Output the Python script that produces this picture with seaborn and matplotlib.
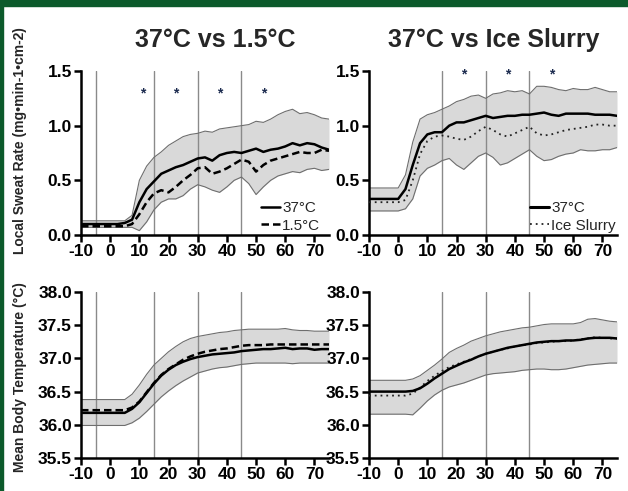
import matplotlib
matplotlib.use("Agg")
import matplotlib.pyplot as plt
import seaborn as sns
from matplotlib import font_manager
from matplotlib.patches import Rectangle
from matplotlib.lines import Line2D

# ---------------- data ----------------
time = [-10, -7.5, -5, -2.5, 0, 2.5, 5, 7.5, 10, 12.5, 15, 17.5, 20, 22.5, 25, 27.5,
        30, 32.5, 35, 37.5, 40, 42.5, 45, 47.5, 50, 52.5, 55, 57.5, 60, 62.5, 65,
        67.5, 70, 72.5, 75]

# Local sweat rate, 37C vs 1.5C
sr_a_37 = [0.10, 0.10, 0.10, 0.10, 0.10, 0.10, 0.11, 0.14, 0.30, 0.42, 0.49, 0.56, 0.59,
           0.62, 0.64, 0.67, 0.70, 0.71, 0.68, 0.73, 0.75, 0.76, 0.75, 0.77, 0.79, 0.76,
           0.78, 0.79, 0.81, 0.84, 0.82, 0.84, 0.83, 0.80, 0.78]
sr_a_15 = [0.08, 0.08, 0.08, 0.08, 0.08, 0.08, 0.08, 0.10, 0.19, 0.30, 0.38, 0.41, 0.39,
           0.44, 0.50, 0.55, 0.61, 0.62, 0.56, 0.58, 0.61, 0.65, 0.69, 0.67, 0.58, 0.64,
           0.68, 0.70, 0.72, 0.74, 0.76, 0.75, 0.75, 0.78, 0.77]
sr_a_hi = [0.13, 0.13, 0.13, 0.13, 0.13, 0.13, 0.13, 0.18, 0.50, 0.63, 0.71, 0.76, 0.82,
           0.86, 0.90, 0.92, 0.93, 0.95, 0.94, 0.97, 0.98, 0.99, 1.00, 1.01, 1.04, 1.03,
           1.06, 1.10, 1.13, 1.15, 1.11, 1.12, 1.10, 1.07, 1.06]
sr_a_lo = [0.07, 0.07, 0.07, 0.07, 0.07, 0.07, 0.07, 0.07, 0.04, 0.12, 0.23, 0.30, 0.33,
           0.33, 0.36, 0.42, 0.46, 0.44, 0.41, 0.39, 0.44, 0.50, 0.53, 0.47, 0.37, 0.44,
           0.50, 0.54, 0.56, 0.58, 0.57, 0.60, 0.61, 0.59, 0.60]

# Local sweat rate, 37C vs Ice Slurry
sr_b_37 = [0.33, 0.33, 0.33, 0.33, 0.33, 0.42, 0.64, 0.84, 0.92, 0.94, 0.94, 1.00, 1.03,
           1.03, 1.05, 1.07, 1.09, 1.07, 1.08, 1.09, 1.09, 1.10, 1.10, 1.11, 1.12, 1.10,
           1.09, 1.11, 1.11, 1.11, 1.11, 1.10, 1.10, 1.10, 1.09]
sr_b_ice = [0.30, 0.30, 0.30, 0.30, 0.30, 0.32, 0.50, 0.74, 0.86, 0.90, 0.91, 0.90, 0.88,
            0.87, 0.90, 0.95, 0.99, 0.96, 0.92, 0.90, 0.93, 0.96, 0.99, 0.93, 0.91, 0.92,
            0.94, 0.96, 0.97, 0.98, 0.99, 1.01, 1.01, 1.00, 1.00]
sr_b_hi = [0.43, 0.43, 0.43, 0.43, 0.43, 0.55, 0.85, 1.06, 1.10, 1.12, 1.15, 1.18, 1.22,
           1.24, 1.27, 1.28, 1.25, 1.29, 1.30, 1.32, 1.31, 1.32, 1.29, 1.36, 1.36, 1.35,
           1.33, 1.32, 1.34, 1.33, 1.33, 1.35, 1.33, 1.31, 1.31]
sr_b_lo = [0.22, 0.22, 0.22, 0.22, 0.22, 0.24, 0.33, 0.54, 0.61, 0.64, 0.68, 0.70, 0.64,
           0.60, 0.66, 0.72, 0.75, 0.71, 0.64, 0.66, 0.70, 0.74, 0.78, 0.72, 0.68, 0.69,
           0.72, 0.74, 0.75, 0.78, 0.77, 0.77, 0.78, 0.78, 0.80]

# Mean body temperature, 37C vs 1.5C
bt_a_37 = [36.18, 36.18, 36.18, 36.18, 36.18, 36.18, 36.18, 36.24, 36.34, 36.48, 36.62,
           36.74, 36.83, 36.90, 36.95, 36.99, 37.02, 37.04, 37.06, 37.07, 37.08, 37.09,
           37.11, 37.12, 37.13, 37.14, 37.14, 37.15, 37.16, 37.14, 37.15, 37.15, 37.13,
           37.14, 37.14]
bt_a_15 = [36.22, 36.22, 36.22, 36.22, 36.22, 36.22, 36.22, 36.26, 36.35, 36.49, 36.63,
           36.75, 36.84, 36.91, 36.98, 37.03, 37.07, 37.10, 37.12, 37.14, 37.15, 37.17,
           37.19, 37.20, 37.20, 37.20, 37.21, 37.21, 37.21, 37.21, 37.21, 37.21, 37.21,
           37.21, 37.21]
bt_a_hi = [36.38, 36.38, 36.38, 36.38, 36.38, 36.38, 36.38, 36.46, 36.60, 36.76, 36.90,
           37.00, 37.10, 37.18, 37.25, 37.30, 37.33, 37.35, 37.37, 37.39, 37.40, 37.42,
           37.43, 37.44, 37.44, 37.44, 37.44, 37.44, 37.45, 37.43, 37.42, 37.42, 37.41,
           37.41, 37.41]
bt_a_lo = [35.99, 35.99, 35.99, 35.99, 35.99, 35.99, 35.99, 36.03, 36.10, 36.20, 36.31,
           36.42, 36.51, 36.59, 36.66, 36.72, 36.78, 36.81, 36.84, 36.86, 36.87, 36.89,
           36.91, 36.92, 36.93, 36.93, 36.93, 36.93, 36.93, 36.92, 36.93, 36.93, 36.93,
           36.93, 36.93]

# Mean body temperature, 37C vs Ice Slurry
bt_b_37 = [36.50, 36.50, 36.50, 36.50, 36.50, 36.50, 36.51, 36.55, 36.62, 36.70, 36.77,
           36.84, 36.89, 36.94, 36.98, 37.03, 37.07, 37.10, 37.13, 37.16, 37.18, 37.20,
           37.22, 37.24, 37.25, 37.26, 37.26, 37.27, 37.27, 37.28, 37.30, 37.31, 37.31,
           37.31, 37.30]
bt_b_ice = [36.44, 36.44, 36.44, 36.44, 36.44, 36.44, 36.47, 36.56, 36.66, 36.74, 36.81,
            36.87, 36.91, 36.95, 36.99, 37.03, 37.07, 37.10, 37.13, 37.15, 37.18, 37.20,
            37.21, 37.23, 37.24, 37.25, 37.26, 37.26, 37.27, 37.29, 37.30, 37.32, 37.31,
            37.30, 37.30]
bt_b_hi = [36.67, 36.67, 36.67, 36.67, 36.67, 36.67, 36.69, 36.74, 36.82, 36.90, 36.99,
           37.09, 37.15, 37.20, 37.26, 37.30, 37.34, 37.37, 37.40, 37.42, 37.44, 37.46,
           37.47, 37.49, 37.51, 37.52, 37.52, 37.52, 37.52, 37.54, 37.59, 37.60, 37.58,
           37.56, 37.55]
bt_b_lo = [36.16, 36.16, 36.16, 36.16, 36.16, 36.16, 36.15, 36.25, 36.36, 36.45, 36.52,
           36.57, 36.60, 36.63, 36.67, 36.71, 36.75, 36.77, 36.78, 36.79, 36.80, 36.82,
           36.83, 36.84, 36.84, 36.83, 36.83, 36.84, 36.86, 36.88, 36.90, 36.91, 36.92,
           36.93, 36.93]

x_ticks = [-10, 0, 10, 20, 30, 40, 50, 60, 70]
sr_ticks = [0.0, 0.5, 1.0, 1.5]
bt_ticks = [35.5, 36.0, 36.5, 37.0, 37.5, 38.0]
vlines_a = [-5, 15, 30, 45]
vlines_b = [15, 30, 45]
stars_a = [11, 22.5, 37.5, 52.5]
stars_b = [22.5, 37.5, 52.5]
titles = ["37°C vs 1.5°C", "37°C vs Ice Slurry"]
legend_a = ["37°C", "1.5°C"]
legend_b = ["37°C", "Ice Slurry"]
ylabel_top = "Local Sweat Rate (mg•min-1•cm-2)"
ylabel_bottom = "Mean Body Temperature (°C)"

# ---------------- style ----------------
sns.set_style("ticks")
avail = {f.name for f in font_manager.fontManager.ttflist}
base_font = "Liberation Sans" if "Liberation Sans" in avail else "DejaVu Sans"
plt.rcParams["font.family"] = [base_font, "DejaVu Sans"]
plt.rcParams["axes.unicode_minus"] = False

W, H = 628, 491
fig = plt.figure(figsize=(W / 100, H / 100), dpi=100)

# green frame (top and left)
fig.patches.append(Rectangle((0, 1 - 6 / H), 1, 6 / H, transform=fig.transFigure,
                             color="#0c5a2b", zorder=10))
fig.patches.append(Rectangle((0, 0), 3 / W, 1, transform=fig.transFigure,
                             color="#0c5a2b", zorder=10))


def axpos(l, t, r, b):
    return [l / W, 1 - b / H, (r - l) / W, (b - t) / H]


ax_tl = fig.add_axes(axpos(81, 71, 329, 235))
ax_tr = fig.add_axes(axpos(369, 71, 617, 235))
ax_bl = fig.add_axes(axpos(81, 292, 329, 458))
ax_br = fig.add_axes(axpos(369, 292, 617, 458))

band_col = "#d9d9d9"
edge_col = "#6e6e6e"
DASH = (0, (3, 1.6))
DOT = (0, (1, 2.2))


def draw(ax, lo, hi, s1, s2, style2, vl, ylim, yticks):
    ax.fill_between(time, lo, hi, color=band_col, lw=0, zorder=1)
    for v in vl:
        ax.axvline(v, color="#8a8a8a", lw=1.0, zorder=1.5)
    sns.lineplot(x=time, y=hi, ax=ax, color=edge_col, lw=0.8, zorder=2)
    sns.lineplot(x=time, y=lo, ax=ax, color=edge_col, lw=0.8, zorder=2)
    sns.lineplot(x=time, y=s1, ax=ax, color="black", lw=1.8, zorder=4)
    if style2 == "dash":
        sns.lineplot(x=time, y=s2, ax=ax, color="black", lw=1.8, zorder=3, linestyle=DASH)
    else:
        sns.lineplot(x=time, y=s2, ax=ax, color="#222222", lw=1.3, zorder=3, linestyle=DOT)
    ax.set_xlim(-10, 75)
    ax.set_ylim(*ylim)
    ax.set_xticks(x_ticks)
    ax.set_xticklabels([str(v) for v in x_ticks])
    ax.set_yticks(yticks)
    ax.set_yticklabels(["{:.1f}".format(v) for v in yticks])
    for sp in ["top", "right"]:
        ax.spines[sp].set_visible(False)
    for sp in ["left", "bottom"]:
        ax.spines[sp].set_linewidth(1.8)
        ax.spines[sp].set_color("black")
    ax.tick_params(axis="both", direction="out", length=5, width=1.8, pad=1.5,
                   colors="black")
    for lab in ax.get_xticklabels() + ax.get_yticklabels():
        lab.set_fontweight("bold")
        lab.set_fontsize(12.5)
    ax.set_xlabel("")
    ax.set_ylabel("")
    if ax.get_legend() is not None:
        ax.get_legend().remove()


draw(ax_tl, sr_a_lo, sr_a_hi, sr_a_37, sr_a_15, "dash", vlines_a, (0, 1.5), sr_ticks)
draw(ax_tr, sr_b_lo, sr_b_hi, sr_b_37, sr_b_ice, "dot", vlines_b, (0, 1.5), sr_ticks)
draw(ax_bl, bt_a_lo, bt_a_hi, bt_a_37, bt_a_15, "dash", vlines_a, (35.5, 38.0), bt_ticks)
draw(ax_br, bt_b_lo, bt_b_hi, bt_b_37, bt_b_ice, "dot", vlines_b, (35.5, 38.0), bt_ticks)

for xs in stars_a:
    ax_tl.text(xs, 1.29, "*", ha="center", va="center", fontsize=10, color="#1c2b4f",
               fontweight="bold")
for xs in stars_b:
    ax_tr.text(xs, 1.47, "*", ha="center", va="center", fontsize=10, color="#1c2b4f",
               fontweight="bold")

# legends
h_a = [Line2D([], [], color="black", lw=1.8),
       Line2D([], [], color="black", lw=1.8, linestyle=DASH)]
h_b = [Line2D([], [], color="black", lw=2.2),
       Line2D([], [], color="#222222", lw=1.3, linestyle=DOT)]
for ax, hs, labs, xa in [(ax_tl, h_a, legend_a, 0.725), (ax_tr, h_b, legend_b, 0.648)]:
    ax.legend(hs, labs, loc="lower left", bbox_to_anchor=(xa, 0.015), frameon=False,
              fontsize=11, handlelength=1.25, handletextpad=0.15, labelspacing=0.22,
              borderpad=0, borderaxespad=0)

# titles
fig.text(215 / W, 1 - 40 / H, titles[0], ha="center", va="center", fontsize=18,
         fontweight="bold")
fig.text(494 / W, 1 - 40 / H, titles[1], ha="center", va="center", fontsize=18,
         fontweight="bold")

# y labels
fig.text(20 / W, 1 - 141 / H, ylabel_top, rotation=90,
         ha="center", va="center", fontsize=10, fontweight="bold")
fig.text(20 / W, 1 - 377 / H, ylabel_bottom, rotation=90,
         ha="center", va="center", fontsize=10, fontweight="bold")

fig.savefig("out.png", dpi=100)
